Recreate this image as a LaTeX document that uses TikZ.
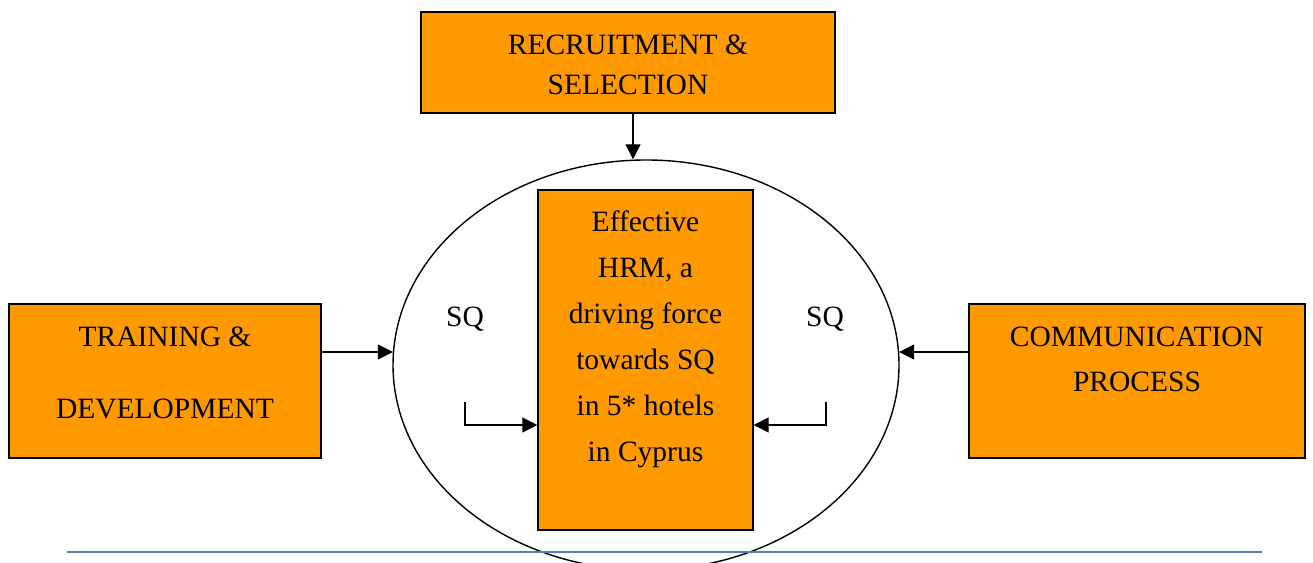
\documentclass[tikz,border=0pt]{standalone}
\usepackage{fontspec}
\setmainfont{Liberation Serif}
\usetikzlibrary{arrows.meta,shapes.geometric,calc}
\definecolor{boxorange}{RGB}{255,153,0}
\definecolor{ruleblue}{RGB}{79,129,189}
\tikzset{
  box/.style={draw=black, line width=1.4pt, fill=boxorange, inner sep=0pt},
  txt/.style={align=center, inner sep=0pt, font=\fontsize{29.5}{40}\selectfont},
  arr/.style={line width=1.3pt, -{Triangle[length=15pt,width=15pt]}},
}
\begin{document}
\begin{tikzpicture}[x=1pt,y=1pt]
  \useasboundingbox (0,0) rectangle (1313,562);
  \clip (0,0) rectangle (1313,562);

  % outer oval holding the central statement
  \node[ellipse, draw, line width=1.4pt, minimum width=506pt, minimum height=410pt, inner sep=0pt] (oval) at (646,197) {};

  % the three input boxes
  \node[box, minimum width=414pt, minimum height=101pt] (rs) at (628,499.5) {};
  \node[box, minimum width=312pt, minimum height=154pt] (td) at (165,181) {};
  \node[box, minimum width=336pt, minimum height=154pt] (cp) at (1137,181) {};

  % central box
  \node[box, minimum width=215pt, minimum height=340pt] (hrm) at (645.5,202) {};

  % texts
  \node[txt] (rst) at (628,497.5) {RECRUITMENT \&\\SELECTION};
  \node[txt, font=\fontsize{29.5}{72}\selectfont] (tdt) at (165,189.5) {TRAINING \&\\DEVELOPMENT};
  \node[txt, font=\fontsize{29.5}{45}\selectfont] (cpt) at (1137,203) {COMMUNICATION\\PROCESS};
  \node[txt, font=\fontsize{29.5}{46}\selectfont] (hrmt) at (645.5,223) {Effective\\HRM, a\\driving force\\towards SQ\\in 5* hotels\\in Cyprus};

  \node[txt] (sql) at (465,242.5) {SQ};
  \node[txt] (sqr) at (825,242.5) {SQ};

  % arrows into the oval
  \coordinate (ly) at (0,210);
  \draw[arr] ([xshift=5pt]rs.south) -- ([xshift=-13pt]oval.north);
  \draw[arr] (td.east |- ly) -- ([xshift=0.6pt]oval.west |- ly);
  \draw[arr] (cp.west |- ly) -- ([xshift=-0.6pt]oval.east |- ly);

  % SQ feeds into the central box
  \coordinate (sqls) at (465,160);
  \coordinate (sqrs) at (826,160);
  \coordinate (by) at (0,137);
  \draw[arr] (sqls) |- (hrm.west |- by);
  \draw[arr] (sqrs) |- (hrm.east |- by);

  % rule across the bottom
  \coordinate (r1) at (67,10);
  \coordinate (r2) at (1262,10);
  \draw[ruleblue, line width=2.5pt] (r1) -- (r2);
\end{tikzpicture}
\end{document}
